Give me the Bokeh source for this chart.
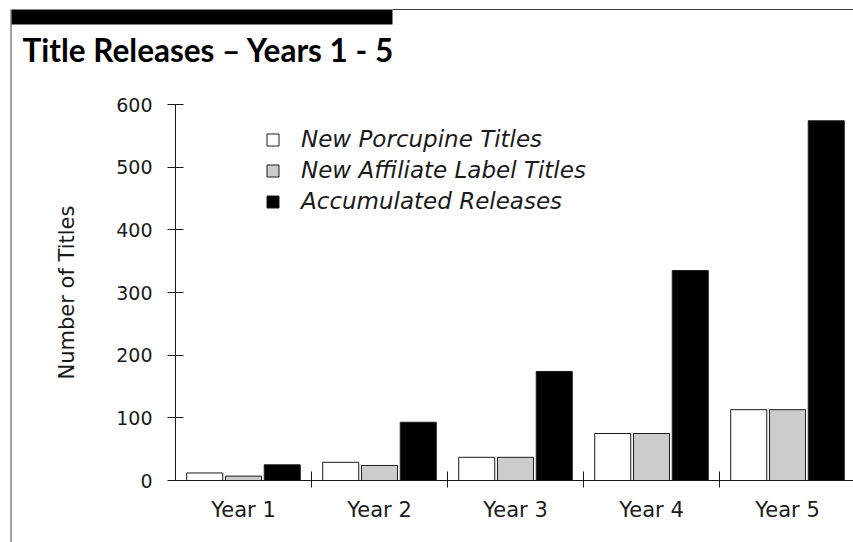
from bokeh.plotting import figure
from bokeh.models import Range1d, FixedTicker, BoxAnnotation, Label, Legend, LegendItem
from bokeh.embed import file_html
from bokeh.resources import INLINE

# ---- data ----
years = ["Year 1", "Year 2", "Year 3", "Year 4", "Year 5"]
porcupine = [12, 29, 37, 75, 113]
affiliate = [7, 24, 37, 75, 113]
accumulated = [25, 93, 174, 335, 574]
series_names = ["New Porcupine Titles", "New Affiliate Label Titles", "Accumulated Releases"]
y_ticks = [0, 100, 200, 300, 400, 500, 600]
y_max = 600
title_text = "Title Releases \u2013 Years 1 - 5"
y_label = "Number of Titles"

# ---- layout constants (pixels) ----
W, H = 853, 542
ORIGIN_X, ORIGIN_Y = 175, 480      # canvas position of (0, 0)
PX_PER_CAT = 136
PX_PER_Y = 376 / y_max
FONT = "DejaVu Sans"
TITLE_FONT = "Lato"
INK = "#1a1a1a"

x_start = -ORIGIN_X / PX_PER_CAT
x_end = (W - ORIGIN_X) / PX_PER_CAT
y_start = -(H - ORIGIN_Y) / PX_PER_Y
y_end = ORIGIN_Y / PX_PER_Y

p = figure(width=W, height=H, output_backend="svg", toolbar_location=None,
           x_range=Range1d(x_start, x_end), y_range=Range1d(y_start, y_end),
           min_border=0)
p.outline_line_color = None
p.xgrid.visible = False
p.ygrid.visible = False

centers = [i + 0.5 for i in range(len(years))]
offsets = [-0.285, 0.0, 0.285]
fills = ["white", "#cccccc", "black"]
bw = 0.265
renderers = []
for vals, off, fc in zip([porcupine, affiliate, accumulated], offsets, fills):
    r = p.vbar(x=[c + off for c in centers], top=vals, bottom=0, width=bw,
               fill_color=fc, line_color=INK, line_width=1)
    renderers.append(r)

# y axis
yax = p.yaxis[0]
yax.fixed_location = 0
yax.bounds = (0, y_max)
yax.ticker = FixedTicker(ticks=y_ticks)
yax.major_tick_in = 8
yax.major_tick_out = 8
yax.minor_tick_line_color = None
yax.axis_line_color = INK
yax.major_tick_line_color = INK
yax.major_label_text_font = FONT
yax.major_label_text_font_size = "19px"
yax.major_label_text_color = INK
yax.major_label_standoff = 15
yax.axis_label = y_label
yax.axis_label_text_font = FONT
yax.axis_label_text_font_style = "normal"
yax.axis_label_text_font_size = "21px"
yax.axis_label_text_color = INK
yax.axis_label_standoff = 34

# x axis
xax = p.xaxis[0]
xax.fixed_location = 0
xax.bounds = (0, x_end)
xax.ticker = FixedTicker(ticks=centers, minor_ticks=[1, 2, 3, 4])
xax.major_label_overrides = {c: y for c, y in zip(centers, years)}
xax.major_tick_in = 0
xax.major_tick_out = 0
xax.minor_tick_in = 9
xax.minor_tick_out = 7
xax.minor_tick_line_color = INK
xax.axis_line_color = INK
xax.major_label_text_font = FONT
xax.major_label_text_font_size = "21px"
xax.major_label_text_color = INK
xax.major_label_standoff = 10

# legend
legend = Legend(items=[LegendItem(label=n, renderers=[r]) for n, r in zip(series_names, renderers)],
                location=(265, 328), orientation="vertical",
                border_line_color=None, background_fill_alpha=0,
                glyph_width=15, glyph_height=15, label_standoff=21,
                spacing=5, padding=0, margin=0,
                label_text_font=FONT, label_text_font_style="italic",
                label_text_font_size="23px", label_text_color=INK)
p.add_layout(legend, "center")

# decorations (canvas units)
def canvas_box(left, right, top, bottom, color):
    return BoxAnnotation(left=left, right=right, top=top, bottom=bottom,
                         left_units="canvas", right_units="canvas",
                         top_units="canvas", bottom_units="canvas",
                         fill_color=color, fill_alpha=1, line_color=None)

p.add_layout(canvas_box(11, 392, 9, 24, "black"))
p.add_layout(canvas_box(392, W, 8.5, 9.5, "#444444"))
p.add_layout(canvas_box(10, 11, 9, H, "#444444"))
p.add_layout(Label(x=22, y=49, x_units="canvas", y_units="canvas", text=title_text,
                   text_font=TITLE_FONT, text_font_style="bold", text_font_size="31.5px",
                   text_baseline="alphabetic", text_color="black"))

open("out.html", "w").write(file_html(p, INLINE))
